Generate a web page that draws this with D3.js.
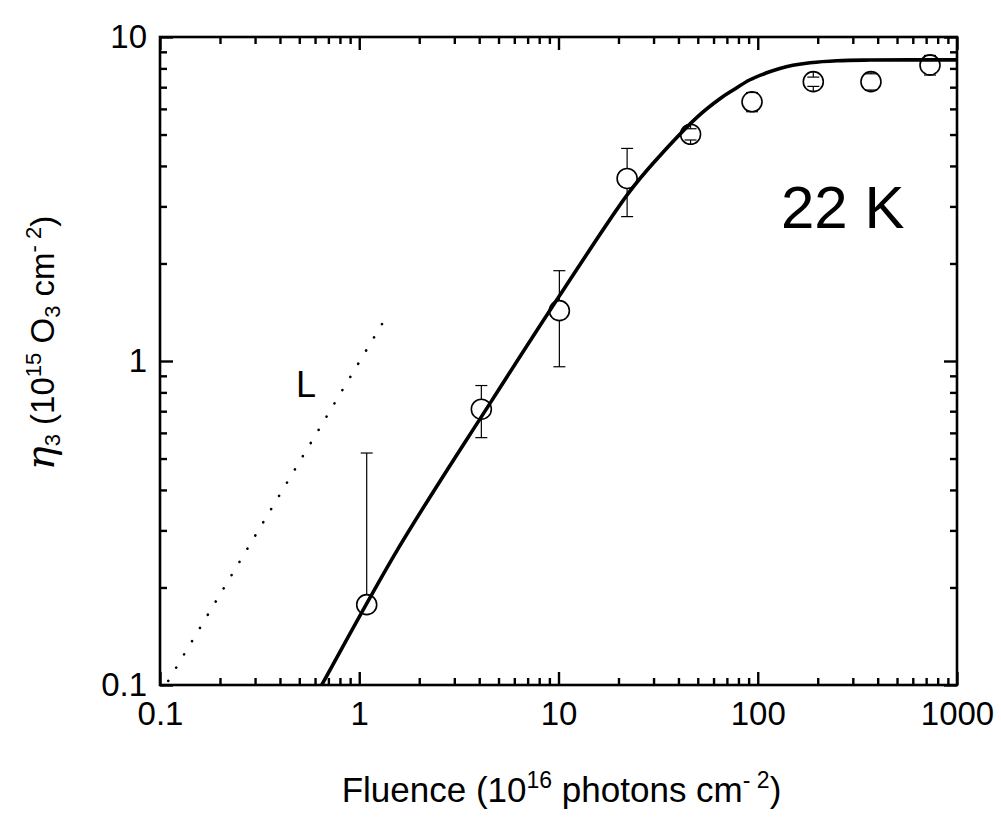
<!DOCTYPE html>
<html>
<head>
<meta charset="utf-8">
<script src="https://cdn.jsdelivr.net/npm/d3@7"></script>
<style>
  html, body { margin: 0; padding: 0; background: #fff; }
  svg { display: block; }
  text { font-family: "Liberation Sans", Arial, sans-serif; fill: #000; }
</style>
</head>
<body>
<div id="chart"></div>
<script>
// ---- data ----
const fluence = [1.09, 4.1, 10.1, 22.1, 46, 93.6, 190, 370, 732];
const eta     = [0.177, 0.71, 1.43, 3.66, 5.01, 6.31, 7.28, 7.28, 8.20];
const etaErr  = [0.343, 0.13, 0.47, 0.87, 0.2, 0.43, 0.24, 0.42, 0.57];

// fit curve
const fitX = [0.6, 0.648, 1.57, 4.53, 10.57, 22.4, 30, 50.3, 64.6, 75, 91.4, 110, 129, 150, 183, 250, 366, 1000];
const fitY = [0.092, 0.1, 0.264, 0.74, 1.656, 3.29, 4.09, 5.70, 6.45, 6.85, 7.38, 7.74, 8.0, 8.18, 8.33, 8.45, 8.49, 8.5];

// dotted linear reference line "L"
const lineLX = [0.11, 1.31];
const lineLY = [0.103, 1.31];

const xTickValues = [0.1, 1, 10, 100, 1000];
const xTickLabels = ["0.1", "1", "10", "100", "1000"];
const yTickValues = [0.1, 1, 10];
const yTickLabels = ["0.1", "1", "10"];

// ---- layout ----
const W = 1001, H = 817;
const pL = 160, pR = 957, pT = 37, pB = 685;

const svg = d3.select("#chart").append("svg").attr("width", W).attr("height", H);

const x = d3.scaleLog().domain([0.1, 1000]).range([pL, pR]);
const y = d3.scaleLog().domain([0.1, 10]).range([pB, pT]);

function minorTicks(lo, hi) {
  const out = [];
  for (let d = lo; d < hi * 0.999; d *= 10) for (let k = 2; k <= 9; k++) out.push(d * k);
  return out;
}
const xMinor = minorTicks(0.1, 1000);
const yMinor = minorTicks(0.1, 10);

svg.append("defs").append("clipPath").attr("id", "clip")
  .append("rect").attr("x", pL).attr("y", pT).attr("width", pR - pL).attr("height", pB - pT);

const MAJ = 13, MIN = 7;
const axW = 2.6;
const tickFont = 33;

function styleAxis(g) {
  g.select(".domain").remove();
  g.selectAll(".tick line").attr("stroke", "#000").attr("stroke-width", 2.4);
}
function styleText(g) {
  g.selectAll("text").attr("font-size", tickFont).attr("font-family", "Liberation Sans, Arial, sans-serif").attr("fill", "#000");
}
// bottom
svg.append("g").attr("transform", `translate(0,${pB})`)
  .call(d3.axisBottom(x).tickValues(xTickValues).tickSize(-MAJ).tickFormat((d, i) => xTickLabels[i]).tickPadding(17))
  .call(styleAxis).call(styleText);
svg.append("g").attr("transform", `translate(0,${pB})`)
  .call(d3.axisBottom(x).tickValues(xMinor).tickSize(-MIN).tickFormat(""))
  .call(styleAxis);
// top
svg.append("g").attr("transform", `translate(0,${pT})`)
  .call(d3.axisTop(x).tickValues(xTickValues).tickSize(-MAJ).tickFormat(""))
  .call(styleAxis);
svg.append("g").attr("transform", `translate(0,${pT})`)
  .call(d3.axisTop(x).tickValues(xMinor).tickSize(-MIN).tickFormat(""))
  .call(styleAxis);
// left
svg.append("g").attr("transform", `translate(${pL},0)`)
  .call(d3.axisLeft(y).tickValues(yTickValues).tickSize(-MAJ).tickFormat((d, i) => yTickLabels[i]).tickPadding(13))
  .call(styleAxis).call(styleText);
svg.append("g").attr("transform", `translate(${pL},0)`)
  .call(d3.axisLeft(y).tickValues(yMinor).tickSize(-MIN).tickFormat(""))
  .call(styleAxis);
// right
svg.append("g").attr("transform", `translate(${pR},0)`)
  .call(d3.axisRight(y).tickValues(yTickValues).tickSize(-MAJ).tickFormat(""))
  .call(styleAxis);
svg.append("g").attr("transform", `translate(${pR},0)`)
  .call(d3.axisRight(y).tickValues(yMinor).tickSize(-MIN).tickFormat(""))
  .call(styleAxis);

// frame
svg.append("rect").attr("x", pL).attr("y", pT).attr("width", pR - pL).attr("height", pB - pT)
  .attr("fill", "none").attr("stroke", "#000").attr("stroke-width", axW);

const plot = svg.append("g").attr("clip-path", "url(#clip)");

// dotted L line
plot.append("path")
  .datum(lineLX.map((v, i) => [v, lineLY[i]]))
  .attr("d", d3.line().x(d => x(d[0])).y(d => y(d[1])))
  .attr("fill", "none").attr("stroke", "#000").attr("stroke-width", 2.6)
  .attr("stroke-linecap", "round").attr("stroke-dasharray", "0.1 15.3");

// fit curve
plot.append("path")
  .datum(fitX.map((v, i) => [v, fitY[i]]))
  .attr("d", d3.line().x(d => x(d[0])).y(d => y(d[1])).curve(d3.curveCatmullRom.alpha(0.5)))
  .attr("fill", "none").attr("stroke", "#000").attr("stroke-width", 3.6);

// error bars + points
const R = 10, CAP = 6;
const pts = svg.append("g");
fluence.forEach((f, i) => {
  const cx = x(f), cy = y(eta[i]);
  const hi = eta[i] + etaErr[i], lo = eta[i] - etaErr[i];
  const yHi = y(hi);
  pts.append("line").attr("x1", cx).attr("x2", cx).attr("y1", cy - R).attr("y2", yHi)
    .attr("stroke", "#000").attr("stroke-width", 1.2);
  pts.append("line").attr("x1", cx - CAP).attr("x2", cx + CAP).attr("y1", yHi).attr("y2", yHi)
    .attr("stroke", "#000").attr("stroke-width", 1.2);
  if (lo > 0) {
    const yLo = y(lo);
    pts.append("line").attr("x1", cx).attr("x2", cx).attr("y1", cy + R).attr("y2", yLo)
      .attr("stroke", "#000").attr("stroke-width", 1.2);
    pts.append("line").attr("x1", cx - CAP).attr("x2", cx + CAP).attr("y1", yLo).attr("y2", yLo)
      .attr("stroke", "#000").attr("stroke-width", 1.2);
  }
  pts.append("circle").attr("cx", cx).attr("cy", cy).attr("r", R)
    .attr("fill", "none").attr("stroke", "#000").attr("stroke-width", 1.6);
});

// annotations
svg.append("text").attr("x", 296).attr("y", 397).attr("font-size", 36).text("L");
svg.append("text").attr("x", 781).attr("y", 228).attr("font-size", 60).text("22 K");

// x title
const xt = svg.append("text").attr("x", (pL + pR) / 2 + 3).attr("y", 802)
  .attr("text-anchor", "middle").attr("font-size", 35);
xt.append("tspan").text("Fluence (10");
xt.append("tspan").attr("font-size", 23).attr("dy", -14).text("16");
xt.append("tspan").attr("dy", 14).text(" photons cm");
xt.append("tspan").attr("font-size", 23).attr("dy", -14).text("- 2");
xt.append("tspan").attr("dy", 14).text(")");

// y title
const yt = svg.append("text").attr("transform", `translate(54,${(pT + pB) / 2 - 18}) rotate(-90)`)
  .attr("text-anchor", "middle").attr("font-size", 33);
yt.append("tspan").attr("font-family", "DejaVu Serif, serif").attr("font-style", "italic").attr("font-size", 40).text("η");
yt.append("tspan").attr("font-size", 22).attr("dy", 6).text("3");
yt.append("tspan").attr("dy", -6).text(" (10");
yt.append("tspan").attr("font-size", 22).attr("dy", -13).text("15");
yt.append("tspan").attr("dy", 13).text(" O");
yt.append("tspan").attr("font-size", 22).attr("dy", 6).text("3");
yt.append("tspan").attr("dy", -6).text(" cm");
yt.append("tspan").attr("font-size", 22).attr("dy", -13).text("- 2");
yt.append("tspan").attr("dy", 13).text(")");
</script>
</body>
</html>
